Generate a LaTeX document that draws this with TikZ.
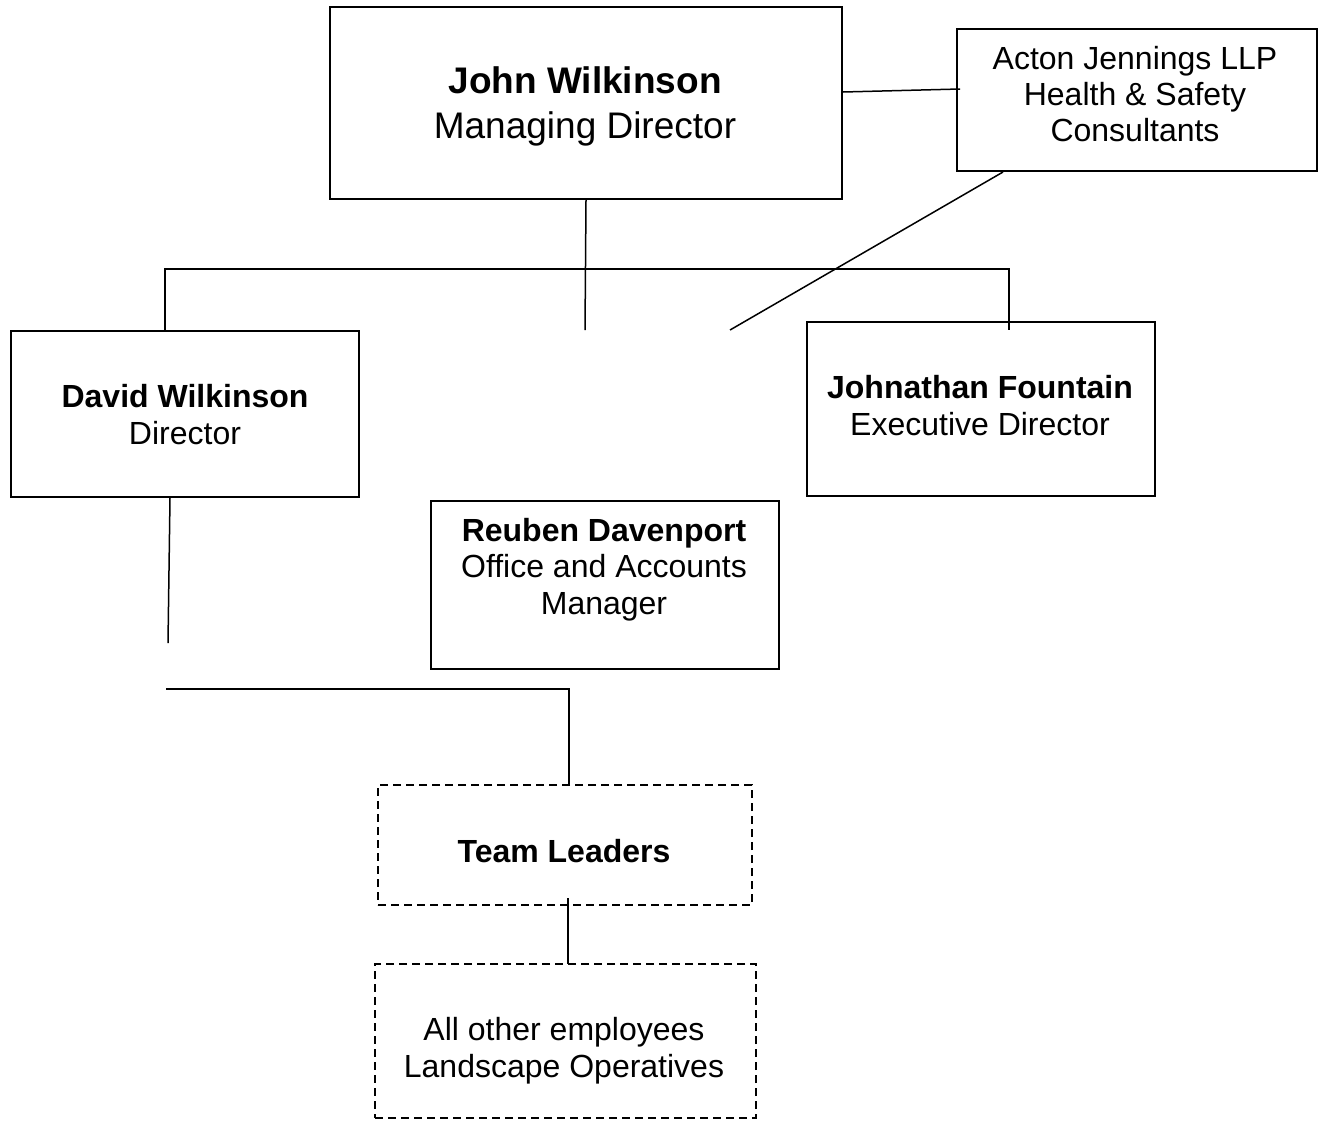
\documentclass[tikz,border=0pt]{standalone}
\usepackage{fontspec}
\setmainfont{Liberation Sans}
\begin{document}
\begin{tikzpicture}[x=0.5pt,y=-0.5pt,
  box/.style={draw, line width=1pt, inner sep=0pt, anchor=north west},
  dbox/.style={box, dash pattern=on 4pt off 2.5pt},
  txt/.style={align=center, inner sep=0pt, font=\fontsize{16}{18.25}\selectfont},
  conn/.style={line width=0.75pt}]
\useasboundingbox (0,0) rectangle (1321,1120);
% boxes
\node[box, minimum width=256pt, minimum height=96pt] (john) at (329,6) {};
\node[box, minimum width=180pt, minimum height=71pt] (acton) at (956,28) {};
\node[box, minimum width=174pt, minimum height=83pt] (david) at (10,330) {};
\node[box, minimum width=174pt, minimum height=87pt] (jf) at (806,321) {};
\node[box, minimum width=174pt, minimum height=84pt] (reuben) at (430,500) {};
\node[dbox, minimum width=187pt, minimum height=60pt] (team) at (377,784) {};
\node[dbox, minimum width=190.5pt, minimum height=77pt] (all) at (374,963) {};
% texts
\node[txt, font=\fontsize{18.5}{22.5}\selectfont] (johnt) at (585,106.5) {\textbf{John Wilkinson}\\Managing Director};
\node[txt, font=\fontsize{16}{18}\selectfont] (actont) at (1135,94) {Acton Jennings LLP\\Health \& Safety\\Consultants};
\node[txt, font=\fontsize{16}{18.5}\selectfont] (davidt) at (185,414.5) {\textbf{David Wilkinson}\\Director};
\node[txt, font=\fontsize{16}{18.5}\selectfont] (jft) at (980,405.5) {\textbf{Johnathan Fountain}\\Executive Director};
\node[txt] (reubent) at (604,569.5) {\textbf{Reuben Davenport}\\Office and Accounts\\Manager};
\node[txt] (teamt) at (564,851) {\textbf{Team Leaders}};
\node[txt, font=\fontsize{16}{18.5}\selectfont] (allt) at (564,1050.5) {All other employees\\Landscape Operatives};
% coordinates
\coordinate (ajEnd) at (960,89);
\coordinate (jmEnd) at (585,330);
\coordinate (hl) at (165,269);
\coordinate (hr) at (1009,269);
\coordinate (jfEnd) at (1009,330);
\coordinate (dgTop) at (1003,172);
\coordinate (dgBot) at (730,330);
\coordinate (dvTop) at (170,498);
\coordinate (dvBot) at (168,643);
\coordinate (bl) at (166,689);
\coordinate (br) at (569,689);
\coordinate (tlTop) at (568,898);
\coordinate (alTop) at (568,964);
% connectors
\draw[conn] ([yshift=5.5pt]john.east) -- (ajEnd);
\draw[conn] (john.south) -- (jmEnd);
\draw[conn] (hl |- david.north) -- (hl) -- (hr) -- (jfEnd);
\draw[conn] (dgTop) -- (dgBot);
\draw[conn] (dvTop) -- (dvBot);
\draw[conn] (bl) -- (br) -- (br |- team.north);
\draw[conn] (tlTop) -- (alTop);
\end{tikzpicture}
\end{document}
